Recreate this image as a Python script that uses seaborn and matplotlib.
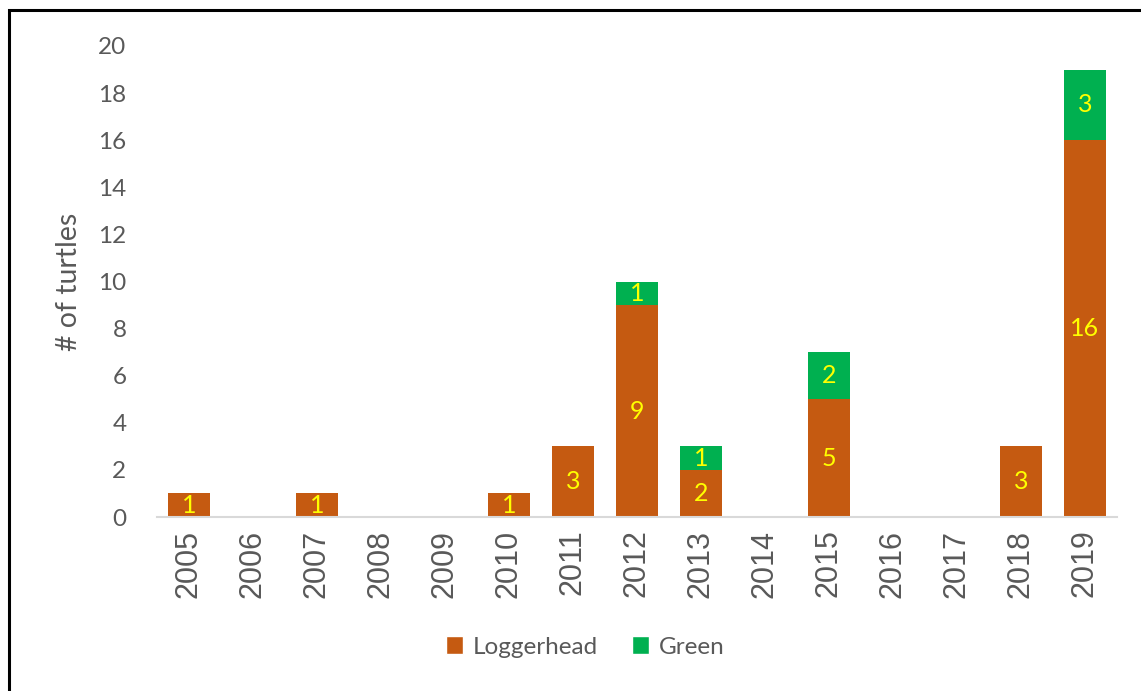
import matplotlib
matplotlib.use("Agg")
import matplotlib.pyplot as plt
from matplotlib.patches import Rectangle, Patch
import seaborn as sns
import pandas as pd

years = ["2005", "2006", "2007", "2008", "2009", "2010", "2011", "2012",
         "2013", "2014", "2015", "2016", "2017", "2018", "2019"]
loggerhead = [1, 0, 1, 0, 0, 1, 3, 9, 2, 0, 5, 0, 0, 3, 16]
green = [0, 0, 0, 0, 0, 0, 0, 1, 1, 0, 2, 0, 0, 0, 3]

ORANGE = "#C55A11"
GREEN = "#00B050"
LABEL = "#FFFF00"
GRAY = "#595959"

sns.set_theme(style="white")
plt.rcParams["font.family"] = ["Lato", "DejaVu Sans"]

df = pd.DataFrame({"year": years, "Loggerhead": loggerhead, "Green": green})
df["total"] = df["Loggerhead"] + df["Green"]

fig = plt.figure(figsize=(11.41, 6.91), dpi=100)
ax = fig.add_axes([157 / 1141, 174 / 691, 960 / 1141, 471 / 691])

# stacked bars: full total in green, loggerhead drawn over the lower part
sns.barplot(data=df, x="year", y="total", color=GREEN, width=0.66,
            saturation=1, linewidth=0, ax=ax, order=years)
sns.barplot(data=df, x="year", y="Loggerhead", color=ORANGE, width=0.66,
            saturation=1, linewidth=0, ax=ax, order=years)

# value labels centred in each segment
for i, (lg, gr) in enumerate(zip(loggerhead, green)):
    if lg > 0:
        ax.text(i, lg / 2, str(lg), ha="center", va="center",
                color=LABEL, fontsize=18)
    if gr > 0:
        ax.text(i, lg + gr / 2, str(gr), ha="center", va="center",
                color=LABEL, fontsize=18)

ax.set_xlim(-0.5, len(years) - 0.5)
ax.set_ylim(0, 20)
ax.set_yticks(range(0, 21, 2))
ax.tick_params(axis="y", length=0, pad=22, labelsize=17.5, labelcolor=GRAY)
ax.tick_params(axis="x", length=0, pad=9, labelsize=22, labelcolor=GRAY)
for lbl in ax.get_xticklabels():
    lbl.set_rotation(90)
    lbl.set_family("Liberation Sans")
ax.set_xlabel("")
ax.set_ylabel("# of turtles", fontsize=20.5, color=GRAY, labelpad=12)

for side in ["top", "right", "left"]:
    ax.spines[side].set_visible(False)
ax.spines["bottom"].set_color("#D9D9D9")
ax.spines["bottom"].set_linewidth(1.5)

handles = [Patch(facecolor=ORANGE, label="Loggerhead"),
           Patch(facecolor=GREEN, label="Green")]
fig.legend(handles=handles, loc="center", bbox_to_anchor=(585 / 1141, 1 - 647 / 691),
           ncol=2, frameon=False, fontsize=17.5, labelcolor=GRAY,
           handlelength=0.7, handleheight=0.7, handletextpad=0.4,
           columnspacing=1.4)

# outer black frame
fig.add_artist(Rectangle((8.5 / 1141, -0.1), 1.2, 1.1 - 9.5 / 691,
                         transform=fig.transFigure, fill=False,
                         edgecolor="black", linewidth=2.2))

fig.savefig("out.png", dpi=100)
